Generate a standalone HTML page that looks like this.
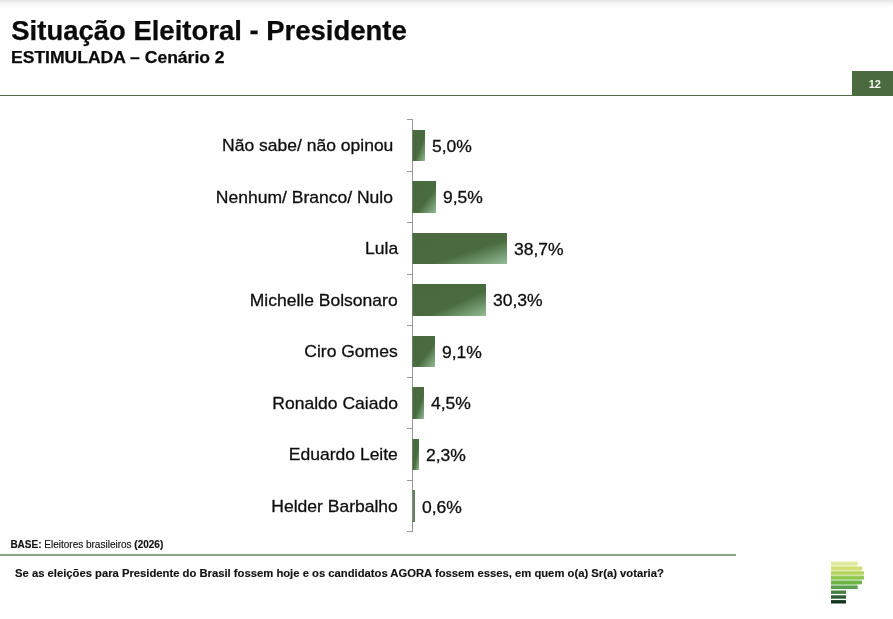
<!DOCTYPE html>
<html lang="pt-BR">
<head>
<meta charset="utf-8">
<title>Situação Eleitoral - Presidente</title>
<style>
html,body{margin:0;padding:0;background:#fff;}
body{width:893px;height:619px;position:relative;overflow:hidden;font-family:"Liberation Sans",Arial,sans-serif;color:#111;}
.abs{position:absolute;white-space:nowrap;}
#topshade{left:0;top:0;width:893px;height:7px;background:linear-gradient(to bottom,#e4e4e4 0%,#f3f3f3 40%,#ffffff 100%);}
#title{left:11.3px;top:16px;font-size:27.47px;font-weight:bold;line-height:30px;color:#0a0a0a;}
#subtitle{left:11.4px;top:48px;font-size:17px;font-weight:bold;line-height:18px;color:#0a0a0a;transform:translateY(0.5px) scaleX(1.031);transform-origin:0 50%;}
#hline{left:0;top:95px;width:893px;height:1px;background:#566b4c;}
#badge{left:852px;top:71px;width:41px;height:25px;background:#4a6b3f;color:#f4f6ee;font-size:11px;font-weight:bold;line-height:27px;text-align:center;box-sizing:border-box;padding-left:4.5px;}
#axis{left:412px;top:119px;width:1px;height:413px;background:#999999;}
.tick{left:407px;width:5px;height:1px;background:#999999;}
.bar{left:412px;height:31px;box-shadow:inset 1px 0 0 rgba(160,160,160,0.4);background:linear-gradient(to bottom right,#49693f 0%,#4a6b40 60%,#93bc95 100%);}
.lab{right:495px;font-size:17px;line-height:20px;text-align:right;color:#111;transform:translateY(0.5px) scaleX(1.03);transform-origin:100% 50%;}
.val{font-size:17px;line-height:20px;color:#111;transform:translateY(0.5px) scaleX(1.03);transform-origin:0 50%;}
#base{left:10.4px;top:539px;font-size:10px;line-height:11px;color:#111;}
#fline{left:0;top:554px;width:736px;height:2px;background:#8ba384;}
#quest{left:15px;top:567px;font-size:11.25px;font-weight:bold;line-height:12px;color:#111;}
.lab,.val{-webkit-text-stroke:0.3px #141414;color:#0d0d0d;}
#title,#subtitle{-webkit-text-stroke:0.25px #0a0a0a;}
#base,#quest{-webkit-text-stroke:0.15px #111;}
</style>
</head>
<body>
<div class="abs" id="topshade"></div>
<div class="abs" id="title">Situação Eleitoral - Presidente</div>
<div class="abs" id="subtitle">ESTIMULADA – Cenário 2</div>
<div class="abs" id="hline"></div>
<div class="abs" id="badge">12</div>

<div class="abs" id="axis"></div>
<div class="abs tick" style="top:119px"></div>
<div class="abs tick" style="top:171px"></div>
<div class="abs tick" style="top:222px"></div>
<div class="abs tick" style="top:274px"></div>
<div class="abs tick" style="top:325px"></div>
<div class="abs tick" style="top:377px"></div>
<div class="abs tick" style="top:428px"></div>
<div class="abs tick" style="top:480px"></div>
<div class="abs tick" style="top:531px"></div>

<div class="abs bar" style="top:130px;width:13px"></div>
<div class="abs bar" style="top:181px;width:24px;height:32px"></div>
<div class="abs bar" style="top:233px;width:95px"></div>
<div class="abs bar" style="top:284px;width:74px;height:32px"></div>
<div class="abs bar" style="top:336px;width:23px"></div>
<div class="abs bar" style="top:387px;width:12px;height:32px"></div>
<div class="abs bar" style="top:439px;width:7px"></div>
<div class="abs bar" style="top:490px;width:3px;height:32px;background:#668360"></div>

<div class="abs lab" style="top:135px;right:500px">Não sabe/ não opinou</div>
<div class="abs lab" style="top:187px;right:500px">Nenhum/ Branco/ Nulo</div>
<div class="abs lab" style="top:238px">Lula</div>
<div class="abs lab" style="top:290px">Michelle Bolsonaro</div>
<div class="abs lab" style="top:341px">Ciro Gomes</div>
<div class="abs lab" style="top:393px">Ronaldo Caiado</div>
<div class="abs lab" style="top:444px">Eduardo Leite</div>
<div class="abs lab" style="top:496px">Helder Barbalho</div>

<div class="abs val" style="top:136px;left:432px">5,0%</div>
<div class="abs val" style="top:187px;left:443px">9,5%</div>
<div class="abs val" style="top:239px;left:513.5px">38,7%</div>
<div class="abs val" style="top:290px;left:493px">30,3%</div>
<div class="abs val" style="top:342px;left:442px">9,1%</div>
<div class="abs val" style="top:393px;left:431px">4,5%</div>
<div class="abs val" style="top:445px;left:425.5px">2,3%</div>
<div class="abs val" style="top:497px;left:422px">0,6%</div>

<div class="abs" id="base"><b>BASE:</b> Eleitores brasileiros <b>(2026)</b></div>
<div class="abs" id="fline"></div>
<div class="abs" id="quest">Se as eleições para Presidente do Brasil fossem hoje e os candidatos AGORA fossem esses, em quem o(a) Sr(a) votaria?</div>

<svg class="abs" id="logo" style="left:813px;top:549px" width="80" height="70" viewBox="0 0 80 70">
<rect x="18" y="16.00" width="26.2" height="1.60" fill="#eaf0bc"/>
<rect x="18" y="20.80" width="30.5" height="1.60" fill="#ddeaab"/>
<rect x="18" y="25.60" width="32.5" height="1.60" fill="#cce4a2"/>
<rect x="18" y="30.40" width="30.5" height="1.60" fill="#b9db9d"/>
<rect x="18" y="35.20" width="26.2" height="1.60" fill="#aad09d"/>
<rect x="18" y="12.70" width="26.7" height="3.4" fill="#dfe79b"/>
<rect x="18" y="17.50" width="31.0" height="3.4" fill="#d0df70"/>
<rect x="18" y="22.30" width="33.0" height="3.4" fill="#b4d35c"/>
<rect x="18" y="27.10" width="33.0" height="3.4" fill="#90c84f"/>
<rect x="18" y="31.90" width="31.0" height="3.4" fill="#6eb44a"/>
<rect x="18" y="36.70" width="26.7" height="3.4" fill="#5a9e4e"/>
<rect x="18" y="41.50" width="15.0" height="3.4" fill="#44803f"/>
<rect x="18" y="46.30" width="15.0" height="3.4" fill="#2c5c2f"/>
<rect x="18" y="51.10" width="15.0" height="3.4" fill="#14331f"/>
</svg>
</body>
</html>
